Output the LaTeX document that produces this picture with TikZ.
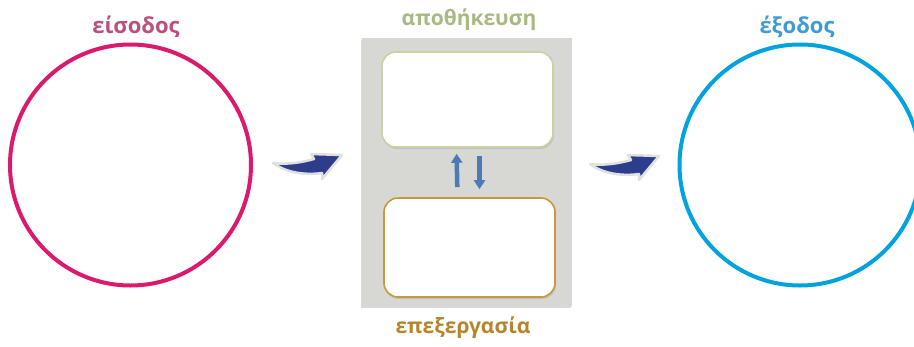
\documentclass[tikz,border=0pt]{standalone}
\usepackage{fontspec}
\setmainfont{Open Sans}
\usetikzlibrary{arrows.meta, positioning, shadows}

\definecolor{inputPink}{HTML}{DB1A6E}
\definecolor{inputText}{HTML}{BA4F80}
\definecolor{outputBlue}{HTML}{00A3E0}
\definecolor{outputText}{HTML}{3E9CCF}
\definecolor{storeText}{HTML}{A9B982}
\definecolor{storeEdge}{HTML}{C8D3A4}
\definecolor{procText}{HTML}{B3862C}
\definecolor{procEdge}{HTML}{C69A3C}
\definecolor{panelGray}{HTML}{D7D7D3}
\definecolor{swooshBlue}{HTML}{2E3C8C}
\definecolor{flowBlue}{HTML}{4C7AB6}

\tikzset{
  ring/.style={circle, line width=4pt, minimum size=241pt, inner sep=0pt},
  heading/.style={font=\fontsize{22}{26}\selectfont\bfseries, anchor=base, inner sep=0pt},
  slot/.style={draw, fill=white, line width=1.6pt, rounded corners=14pt,
    minimum width=171pt, inner sep=0pt,
    drop shadow={shadow xshift=1pt, shadow yshift=-2pt, opacity=0.25}},
  flow/.style={draw=flowBlue, line width=4.5pt, -{Triangle[length=9pt, width=11pt]}},
  swoosh/.pic={
    \filldraw[fill=swooshBlue, draw=black!12, line width=2.5pt, line join=round]
      (0,0) .. controls (15,2) and (30,-1) .. (41,-4)
      -- (38,-9) -- (69,-8) -- (49,16) -- (49,10)
      .. controls (35,12) and (15,11) .. (0,0) -- cycle;
  }
}

\begin{document}
\begin{tikzpicture}[x=1pt, y=-1pt]
\useasboundingbox (0,0) rectangle (914,346);
\clip (0,0) rectangle (914,346);

% input and output
\node[ring, draw=inputPink] (input) at (130.5,165) {};
\node[ring, draw=outputBlue] (output) at (800,165) {};
\node[heading, text=inputText] (inputLab) at (136,33) {είσοδος};
\node[heading, text=outputText] (outputLab) at (797,33) {έξοδος};

% the computer in the middle
\fill[panelGray, drop shadow={shadow xshift=-1.5pt, shadow yshift=-2pt, opacity=0.3}]
  (362,38) rectangle (572,306);
\node[slot, draw=storeEdge, minimum height=95pt] (store) at (467.5,99.5) {};
\node[slot, draw=procEdge, minimum height=99pt] (proc) at (469.5,247.5) {};
\node[heading, text=storeText, font=\fontsize{21}{25}\selectfont\bfseries] (storeLab) at (469,25) {αποθήκευση};
\node[heading, text=procText, font=\fontsize{21}{25}\selectfont\bfseries] (procLab) at (463,333) {επεξεργασία};

\draw[flow, shorten <=10pt, shorten >=6pt] ([xshift=-12pt]proc.north) -- ([xshift=-11pt]store.south);
\draw[flow, shorten <=8pt, shorten >=8pt] ([xshift=12pt]store.south) -- ([xshift=10pt]proc.north);

% swooshes between the parts
\coordinate (inTail) at (273,163);
\coordinate (outTail) at (590,164);
\pic at (inTail) {swoosh};
\pic at (outTail) {swoosh};
\end{tikzpicture}
\end{document}
